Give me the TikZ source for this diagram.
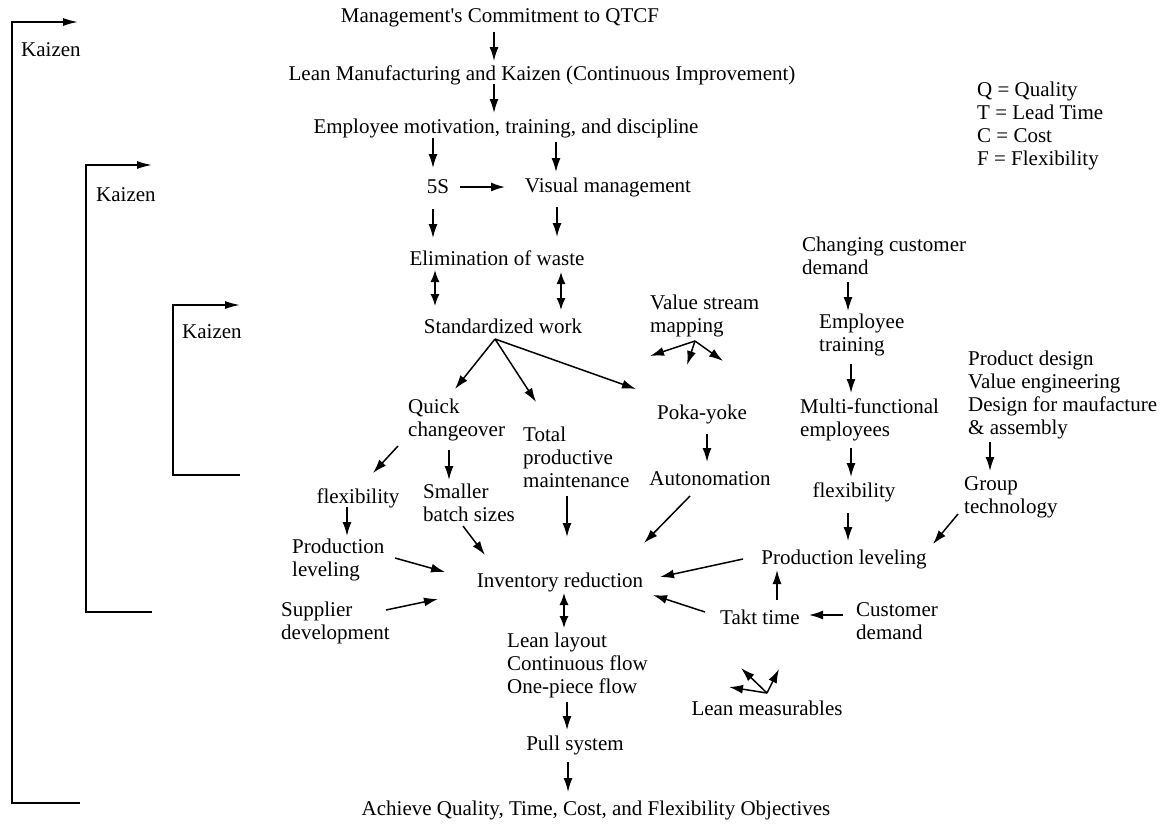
\documentclass[tikz,border=0pt]{standalone}
\usepackage{fontspec}
\setmainfont{Liberation Serif}
\usetikzlibrary{arrows.meta,calc}

\begin{document}
\begin{tikzpicture}[x=1pt,y=-1pt,
        lbl/.style={inner sep=0pt, align=left, font=\fontsize{21}{23}\selectfont},
        arr/.style={-{Latex[length=14pt,width=9pt]}, line width=1.5pt},
        darr/.style={{Latex[length=12pt,width=9pt]}-{Latex[length=12pt,width=9pt]}, line width=1.5pt},
        kz/.style={{Latex[length=15pt,width=8pt]}-, line width=1.5pt}]
        \useasboundingbox (0,0) rectangle (1162,823);

        % Kaizen loops
        \draw[kz] (78,22) -- (12,22) -- (12,803) -- (80,803);
        \draw[kz] (152,165) -- (86,165) -- (86,612) -- (152,612);
        \draw[kz] (240,305) -- (173,305) -- (173,475) -- (240,475);
        \node[lbl, anchor=west] (kz1) at (21,50) {Kaizen};
        \node[lbl, anchor=west] (kz2) at (96,195) {Kaizen};
        \node[lbl, anchor=west] (kz3) at (182,332) {Kaizen};

        % Main column
        \node[lbl] (mgmt) at (500,18) {Management\textquotesingle s Commitment to QTCF};
        \node[lbl] (lean) at (542,75) {Lean Manufacturing and Kaizen (Continuous Improvement)};
        \node[lbl] (emp) at (506,128) {Employee motivation, training, and discipline};
        \node[lbl] (fives) at (438,187) {5S};
        \node[lbl] (vis) at (608,187) {Visual management};
        \node[lbl] (elim) at (497,258) {Elimination of waste};
        \node[lbl] (std) at (503,326) {Standardized work};
        \node[lbl, anchor=west] (vsm) at (650,316) {Value stream\\mapping};
        \node[lbl, anchor=west] (quick) at (408,420) {Quick\\changeover};
        \node[lbl, anchor=west] (tpm) at (523,457) {Total\\productive\\maintenance};
        \node[lbl] (poka) at (702,414) {Poka-yoke};
        \node[lbl] (auto) at (710,479) {Autonomation};
        \node[lbl] (flexl) at (358,498) {flexibility};
        \node[lbl, anchor=west] (small) at (423,503) {Smaller\\batch sizes};
        \node[lbl, anchor=west] (prodl) at (292,560) {Production\\leveling};
        \node[lbl, anchor=west] (supp) at (281,623) {Supplier\\development};
        \node[lbl] (inv) at (560,582) {Inventory reduction};
        \node[lbl, anchor=west] (layout) at (507,665) {Lean layout\\Continuous flow\\One-piece flow};
        \node[lbl] (pull) at (575,745) {Pull system};
        \node[lbl] (goal) at (596,810) {Achieve Quality, Time, Cost, and Flexibility Objectives};

        % Right side
        \node[lbl, anchor=west] (chg) at (802,256) {Changing customer\\demand};
        \node[lbl, anchor=west] (etrain) at (819,335) {Employee\\training};
        \node[lbl, anchor=west] (multi) at (800,420) {Multi-functional\\employees};
        \node[lbl] (flexr) at (854,492) {flexibility};
        \node[lbl] (prodr) at (844,559) {Production leveling};
        \node[lbl] (takt) at (760,617) {Takt time};
        \node[lbl, anchor=west] (cust) at (856,621) {Customer\\demand};
        \node[lbl] (leanm) at (767,708) {Lean measurables};
        \node[lbl, anchor=west] (prod) at (968,395) {Product design\\Value engineering\\Design for maufacture\\\& assembly};
        \node[lbl, anchor=west] (group) at (964,497) {Group\\technology};
        \node[lbl, anchor=west] (legend) at (977,126) {Q = Quality\\T = Lead Time\\C = Cost\\F = Flexibility};

        % Arrows, top part
        \draw[arr] ($(mgmt)+(-6,14)$) -- ($(lean)+(-48,-14)$);
        \draw[arr] ($(lean)+(-48,9)$) -- ($(emp)+(-12,-15)$);
        \draw[arr] ($(emp)+(-73,10)$) -- ($(fives)+(-5,-19)$);
        \draw[arr] ($(emp)+(50,14)$) -- ($(vis)+(-52,-15)$);
        \draw[arr] ($(fives)+(22,0)$) -- ($(vis)+(-103,0)$);
        \draw[arr] ($(fives)+(-5,22)$) -- ($(elim)+(-64,-20)$);
        \draw[arr] ($(vis)+(-51,20)$) -- ($(elim)+(60,-21)$);
        \draw[darr] ($(elim)+(-62,12)$) -- ($(std)+(-68,-20)$);
        \draw[darr] ($(elim)+(64,14)$) -- ($(std)+(58,-16)$);
        \draw[arr] ($(std)+(-8,13)$) -- ($(quick.west)+(47,-31)$);
        \draw[arr] ($(std)+(-8,13)$) -- ($(tpm.west)+(13,-55)$);
        \draw[arr] ($(std)+(-8,13)$) -- ($(poka)+(-66,-25)$);
        \draw[arr] ($(vsm.west)+(45,25)$) -- ++(-45,15);
        \draw[arr] ($(vsm.west)+(45,25)$) -- ++(-8,24);
        \draw[arr] ($(vsm.west)+(45,25)$) -- ++(28,20);
        \draw[arr] ($(poka)+(5,20)$) -- ($(auto)+(-3,-17)$);

        % Arrows into inventory reduction
        \draw[arr] ($(quick.west)+(-10,26)$) -- ($(flexl)+(15,-25)$);
        \draw[arr] ($(quick.west)+(41,30)$) -- ($(small.west)+(26,-23)$);
        \draw[arr] ($(flexl)+(-11,9)$) -- ($(prodl.west)+(55,-24)$);
        \draw[arr] ($(small.west)+(40,23)$) -- ($(inv)+(-75,-27)$);
        \draw[arr] ($(tpm.west)+(44,39)$) -- ($(inv)+(7,-45)$);
        \draw[arr] ($(auto)+(-20,17)$) -- ($(inv)+(84,-39)$);
        \draw[arr] ($(prodl.west)+(103,-2)$) -- ($(inv)+(-115,-10)$);
        \draw[arr] ($(supp.west)+(105,-13)$) -- ($(inv)+(-122,17)$);
        \draw[darr] ($(inv)+(4,11)$) -- ($(layout.west)+(57,-37)$);
        \draw[arr] ($(layout.west)+(60,37)$) -- ($(pull)+(-8,-15)$);
        \draw[arr] ($(pull)+(-7,17)$) -- ($(goal)+(-28,-18)$);

        % Arrows, right part
        \draw[arr] ($(chg.west)+(46,26)$) -- ($(etrain.west)+(29,-24)$);
        \draw[arr] ($(etrain.west)+(32,29)$) -- ($(multi.west)+(51,-27)$);
        \draw[arr] ($(multi.west)+(51,28)$) -- ($(flexr)+(-3,-15)$);
        \draw[arr] ($(flexr)+(-6,21)$) -- ($(prodr)+(4,-18)$);
        \draw[arr] ($(prodr)+(-101,0)$) -- ($(inv)+(100,-5)$);
        \draw[arr] ($(takt)+(-55,-5)$) -- ($(inv)+(93,13)$);
        \draw[arr] ($(takt)+(17,-17)$) -- ($(prodr)+(-67,11)$);
        \draw[arr] ($(cust.west)+(-13,-6)$) -- ($(takt)+(49,-2)$);
        \draw[arr] ($(leanm)+(0,-15)$) -- ++(-38,-6);
        \draw[arr] ($(leanm)+(0,-15)$) -- ++(-26,-25);
        \draw[arr] ($(leanm)+(0,-15)$) -- ++(12,-24);
        \draw[arr] ($(prod.west)+(22,47)$) -- ($(group.west)+(26,-26)$);
        \draw[arr] ($(group.west)+(-6,17)$) -- ($(prodr)+(89,-15)$);

    \end{tikzpicture}
\end{document}
